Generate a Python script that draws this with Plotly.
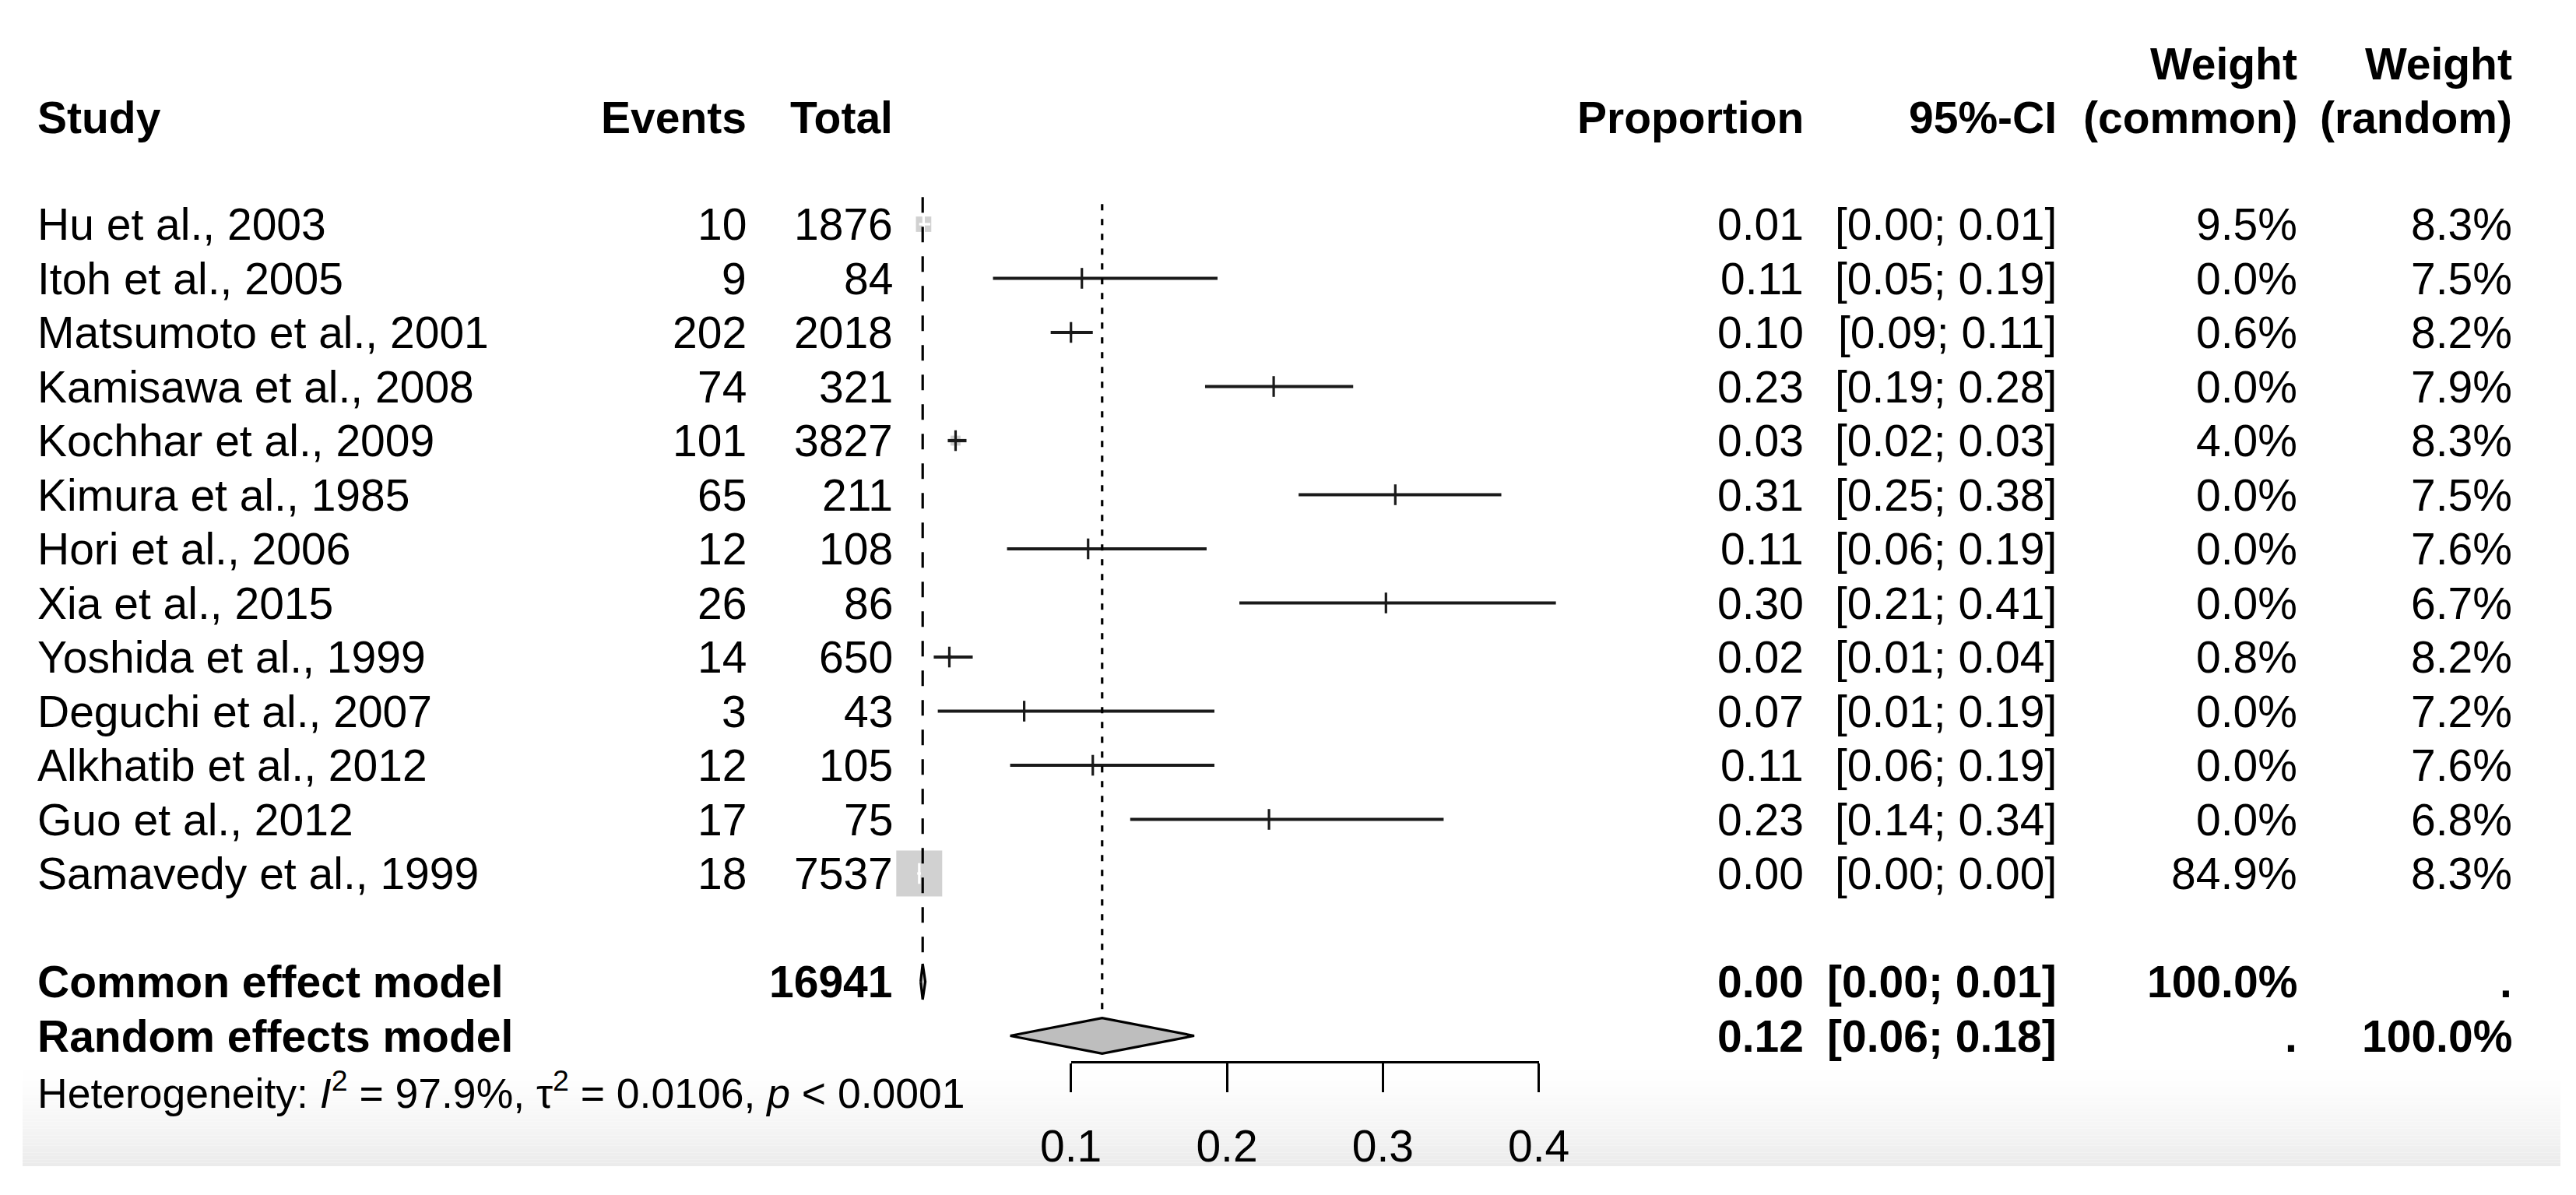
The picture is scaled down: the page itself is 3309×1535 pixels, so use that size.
import math
import plotly.graph_objects as go

# ---------------- data ----------------
studies = ["Hu et al., 2003", "Itoh et al., 2005", "Matsumoto et al., 2001", "Kamisawa et al., 2008",
           "Kochhar et al., 2009", "Kimura et al., 1985", "Hori et al., 2006", "Xia et al., 2015",
           "Yoshida et al., 1999", "Deguchi et al., 2007", "Alkhatib et al., 2012", "Guo et al., 2012",
           "Samavedy et al., 1999"]
events = [10, 9, 202, 74, 101, 65, 12, 26, 14, 3, 12, 17, 18]
totals = [1876, 84, 2018, 321, 3827, 211, 108, 86, 650, 43, 105, 75, 7537]
proportion = [0.0055, 0.107, 0.100, 0.230, 0.026, 0.308, 0.111, 0.302, 0.022, 0.070, 0.114, 0.227, 0.0027]
ci_lower = [0.0026, 0.050, 0.087, 0.186, 0.021, 0.246, 0.059, 0.208, 0.012, 0.0146, 0.061, 0.138, 0.0014]
ci_upper = [0.0098, 0.194, 0.114, 0.281, 0.033, 0.376, 0.187, 0.411, 0.037, 0.192, 0.192, 0.339, 0.0038]
weight_common = [9.5, 0.0, 0.6, 0.0, 4.0, 0.0, 0.0, 0.0, 0.8, 0.0, 0.0, 0.0, 84.9]
weight_random = [8.3, 7.5, 8.2, 7.9, 8.3, 7.5, 7.6, 6.7, 8.2, 7.2, 7.6, 6.8, 8.3]

pooled_labels = ["Common effect model", "Random effects model"]
pooled_est = [0.0049, 0.120]
pooled_lower = [0.0036, 0.061]
pooled_upper = [0.0066, 0.179]
pooled_w_common = ["100.0%", "."]
pooled_w_random = [".", "100.0%"]
total_n = 16941

axis_ticks = [0.1, 0.2, 0.3, 0.4]
axis_ticktext = ["0.1", "0.2", "0.3", "0.4"]
heterogeneity = "Heterogeneity: <i>I</i><sup>2</sup> = 97.9%, τ<sup>2</sup> = 0.0106, <i>p</i> &lt; 0.0001"

# ---------------- layout geometry ----------------
W, H = 3309, 1535
OFF = 8  # page body margin offset
X0_PX, PX_PER_UNIT = 1175.4 - OFF, 2003.0
ROW1_PX, ROW_PX = 288.0 - OFF, 69.5
x_range = [(0 - X0_PX) / PX_PER_UNIT, (W - X0_PX) / PX_PER_UNIT]
y_range = [1 + (H - ROW1_PX) / ROW_PX, 1 + (0 - ROW1_PX) / ROW_PX]
FONT = "Liberation Sans, Arial, Helvetica, sans-serif"
FS = 57
GRAY = "#bebebe"

rows = list(range(1, len(studies) + 1))
pooled_rows = [15, 16]
HEAD1, HEAD2 = -1.96, -0.97
HET_ROW = 17.0

fig = go.Figure()

# squares (area ~ common weight)
max_w = max(weight_common)
sq_sizes = [59 * math.sqrt(w / max_w) for w in weight_common]
fig.add_trace(go.Scatter(x=proportion, y=rows, mode="markers",
                         marker=dict(symbol="square", size=sq_sizes, color=GRAY, line=dict(width=0)),
                         hoverinfo="skip"))

# CI lines and estimate ticks (white when inside square)
inside = [(hi - lo) * PX_PER_UNIT <= s for lo, hi, s in zip(ci_lower, ci_upper, sq_sizes)]
for flag, col, lw in [(False, "#1a1a1a", 4.2), (True, "white", 3.2)]:
    xs, ys = [], []
    for lo, hi, r, f in zip(ci_lower, ci_upper, rows, inside):
        if f == flag:
            xs += [lo, hi, None]
            ys += [r, r, None]
    fig.add_trace(go.Scatter(x=xs, y=ys, mode="lines", line=dict(color=col, width=lw), hoverinfo="skip"))
    ex = [p for p, f in zip(proportion, inside) if f == flag]
    ey = [r for r, f in zip(rows, inside) if f == flag]
    fig.add_trace(go.Scatter(x=ex, y=ey, mode="markers",
                             marker=dict(symbol="line-ns", size=19, line=dict(width=3.2, color=col)),
                             hoverinfo="skip"))

# reference lines
fig.add_trace(go.Scatter(x=[pooled_est[0], pooled_est[0]], y=[0.5, 14.65], mode="lines",
                         line=dict(color="black", width=3.2, dash="20px,18px"), hoverinfo="skip"))
fig.add_trace(go.Scatter(x=[pooled_est[1], pooled_est[1]], y=[0.63, 15.67], mode="lines",
                         line=dict(color="black", width=3.2, dash="8px,11px"), hoverinfo="skip"))

# pooled diamonds
HALF = 0.33
for est, lo, hi, r in zip(pooled_est, pooled_lower, pooled_upper, pooled_rows):
    fig.add_trace(go.Scatter(x=[lo, est, hi, est, lo], y=[r, r - HALF, r, r + HALF, r],
                             mode="lines", fill="toself", fillcolor=GRAY,
                             line=dict(color="black", width=3.2), hoverinfo="skip"))

# scale axis (bottom)
fig.add_trace(go.Scatter(x=[], y=[], xaxis="x2", yaxis="y2", hoverinfo="skip"))

annotations = []


def txt(text, xpx, row, anchor, bold=False, size=FS):
    if bold:
        text = "<b>" + text + "</b>"
    annotations.append(dict(text=text, x=(xpx - OFF) / W, xref="paper", y=row, yref="y",
                            xanchor=anchor, yanchor="middle", showarrow=False,
                            font=dict(family=FONT, size=size, color="black")))


# headers
txt("Study", 46, HEAD2, "left", True)
txt("Events", 961, HEAD2, "right", True)
txt("Total", 1149, HEAD2, "right", True)
txt("Proportion", 2319, HEAD2, "right", True)
txt("95%-CI", 2644, HEAD2, "right", True)
txt("Weight", 2953, HEAD1, "right", True)
txt("(common)", 2953, HEAD2, "right", True)
txt("Weight", 3229, HEAD1, "right", True)
txt("(random)", 3229, HEAD2, "right", True)

for i, r in enumerate(rows):
    txt(studies[i], 46, r, "left")
    txt(str(events[i]), 961, r, "right")
    txt(str(totals[i]), 1149, r, "right")
    txt(f"{proportion[i]:.2f}", 2319, r, "right")
    txt(f"[{ci_lower[i]:.2f}; {ci_upper[i]:.2f}]", 2644, r, "right")
    txt(f"{weight_common[i]:.1f}%", 2953, r, "right")
    txt(f"{weight_random[i]:.1f}%", 3229, r, "right")

for k, r in enumerate(pooled_rows):
    txt(pooled_labels[k], 46, r, "left", True)
    if k == 0:
        txt(str(total_n), 1149, r, "right", True)
    txt(f"{pooled_est[k]:.2f}", 2319, r, "right", True)
    txt(f"[{pooled_lower[k]:.2f}; {pooled_upper[k]:.2f}]", 2644, r, "right", True)
    txt(pooled_w_common[k], 2953, r, "right", True)
    txt(pooled_w_random[k], 3229, r, "right", True)

txt(heterogeneity, 46, HET_ROW, "left", size=53.5)

# light gray gradient band at the bottom (screenshot shading)
shapes = []
y_top, y_bot = 1366 - OFF, 1498 - OFF
n_b = 30
for b in range(n_b):
    t = (b + 0.5) / n_b
    g = int(round(255 - 20 * t ** 1.4))
    ya = y_top + (y_bot - y_top) * b / n_b
    yb = y_top + (y_bot - y_top) * (b + 1) / n_b
    shapes.append(dict(type="rect", xref="paper", yref="paper", x0=(29 - OFF) / W, x1=(3289 - OFF) / W,
                       y0=1 - yb / H, y1=1 - ya / H, line=dict(width=0),
                       fillcolor=f"rgb({g},{g},{g})", layer="below"))

span = x_range[1] - x_range[0]
d0 = (axis_ticks[0] - x_range[0]) / span
d1 = (axis_ticks[-1] - x_range[0]) / span
axis_y = 1 - (1363 - OFF) / H

fig.update_layout(
    template="none",
    width=W, height=H, margin=dict(l=0, r=0, t=0, b=0, pad=0, autoexpand=False),
    paper_bgcolor="white", plot_bgcolor="rgba(0,0,0,0)",
    showlegend=False, shapes=shapes, annotations=annotations,
    xaxis=dict(range=x_range, visible=False, domain=[0, 1], automargin=False),
    yaxis=dict(range=y_range, visible=False, domain=[0, 1], automargin=False),
    xaxis2=dict(domain=[d0, d1], anchor="y2", range=[axis_ticks[0], axis_ticks[-1]], automargin=False,
                showline=True, linecolor="black", linewidth=3.2, ticks="outside", ticklen=37,
                tickwidth=3.2, tickcolor="black", tickvals=axis_ticks, ticktext=axis_ticktext,
                ticklabelstandoff=20,
                tickfont=dict(family=FONT, size=FS, color="black"), showgrid=False, zeroline=False,
                fixedrange=True),
    yaxis2=dict(domain=[axis_y, axis_y + 0.05], anchor="x2", visible=False, range=[0, 1],
                automargin=False),
    font=dict(family=FONT),
)

fig.write_html("out.html")
